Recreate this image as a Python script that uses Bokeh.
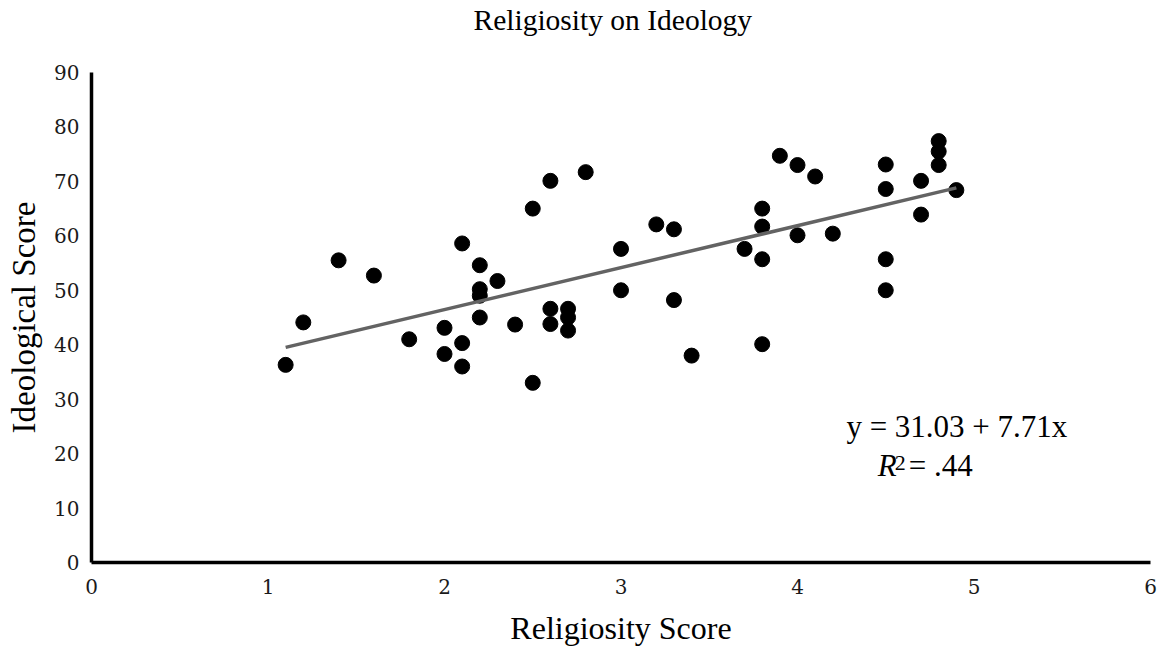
from bokeh.plotting import figure
from bokeh.models import Range1d, FixedTicker, Label, Title
from bokeh.embed import file_html
from bokeh.resources import INLINE

# ---- data ----
religiosity = [1.1, 1.2, 1.4, 1.6, 1.8,
               2.0, 2.0,
               2.1, 2.1, 2.1,
               2.2, 2.2, 2.2, 2.2,
               2.3, 2.4,
               2.5, 2.5,
               2.6, 2.6, 2.6,
               2.7, 2.7, 2.7,
               2.8,
               3.0, 3.0,
               3.2,
               3.3, 3.3,
               3.4, 3.7,
               3.8, 3.8, 3.8, 3.8,
               3.9,
               4.0, 4.0,
               4.1, 4.2,
               4.5, 4.5, 4.5, 4.5,
               4.7, 4.7,
               4.8, 4.8, 4.8,
               4.9]
ideology = [36.3, 44.1, 55.5, 52.7, 41.0,
            43.1, 38.3,
            58.6, 40.3, 36.0,
            54.6, 50.2, 49.0, 45.0,
            51.7, 43.7,
            65.0, 33.0,
            70.1, 46.6, 43.8,
            46.6, 45.0, 42.6,
            71.7,
            57.6, 50.0,
            62.1,
            61.2, 48.2,
            38.0, 57.6,
            65.0, 61.7, 55.7, 40.1,
            74.7,
            73.0, 60.1,
            70.9, 60.4,
            73.1, 68.6, 55.7, 50.0,
            70.1, 63.9,
            77.4, 75.5, 73.0,
            68.4]
x_ticks = [0, 1, 2, 3, 4, 5, 6]
y_ticks = [0, 10, 20, 30, 40, 50, 60, 70, 80, 90]
intercept = 31.03
slope = 7.71
r_squared = ".44"

SERIF = "Liberation Serif"

p = figure(width=1159, height=651, output_backend="svg", toolbar_location=None,
           x_range=Range1d(0, 6), y_range=Range1d(0, 90),
           min_border_left=91, min_border_right=9, min_border_top=72, min_border_bottom=89)

# spacer panel (closest to the frame) and the chart title above it
spacer = Title(text=" ", text_font_size="1px", text_color="white", standoff=30)
main_title = Title(text="Religiosity on Ideology", text_font=SERIF, text_font_size="29.5px",
                   text_font_style="normal", text_color="#000000",
                   align="left", offset=382, vertical_align="top", standoff=4)
p.add_layout(spacer, "above")
p.add_layout(main_title, "above")

p.grid.visible = False
p.outline_line_color = None
p.background_fill_color = "white"
p.border_fill_color = "white"

for ax in (p.xaxis, p.yaxis):
    ax.major_tick_in = 0
    ax.major_tick_out = 0
    ax.minor_tick_in = 0
    ax.minor_tick_out = 0
    ax.axis_line_width = 3.5
    ax.axis_line_color = "#000000"
    ax.major_label_text_font = "DejaVu Serif"
    ax.major_label_text_font_size = "20px"
    ax.major_label_text_color = "#1a1a1a"
    ax.axis_label_text_font = SERIF
    ax.axis_label_text_font_style = "normal"
    ax.axis_label_text_color = "#000000"

p.xaxis.ticker = FixedTicker(ticks=x_ticks)
p.yaxis.ticker = FixedTicker(ticks=y_ticks)
p.xaxis.axis_label = "Religiosity Score"
p.yaxis.axis_label = "Ideological Score"
p.xaxis.axis_label_text_font_size = "32px"
p.yaxis.axis_label_text_font_size = "33px"
p.xaxis.major_label_standoff = 16
p.xaxis.axis_label_standoff = 13
p.yaxis.major_label_standoff = 12
p.yaxis.axis_label_standoff = 9

p.scatter(religiosity, ideology, size=15, color="#000000")

x_fit = [min(religiosity), max(religiosity)]
y_fit = [intercept + slope * v for v in x_fit]
p.line(x_fit, y_fit, line_color="#636363", line_width=3.5)

# regression annotation
p.add_layout(Label(x=4.277, y=25.0, text=f"y = {intercept:.2f} + {slope:.2f}x",
                   text_font=SERIF, text_font_size="31px", text_color="#000000",
                   text_baseline="alphabetic", text_align="left"))
p.add_layout(Label(x=4.455, y=17.8, text="R", text_font=SERIF, text_font_size="31px",
                   text_font_style="italic", text_color="#000000",
                   text_baseline="alphabetic", text_align="left"))
p.add_layout(Label(x=4.455, y=17.8, x_offset=17, y_offset=3, text="2", text_font=SERIF,
                   text_font_size="22px", text_color="#000000",
                   text_baseline="alphabetic", text_align="left"))
p.add_layout(Label(x=4.455, y=17.8, x_offset=31, text="= " + r_squared, text_font=SERIF,
                   text_font_size="31px", text_color="#000000",
                   text_baseline="alphabetic", text_align="left"))

open("out.html", "w").write(file_html(p, INLINE))
